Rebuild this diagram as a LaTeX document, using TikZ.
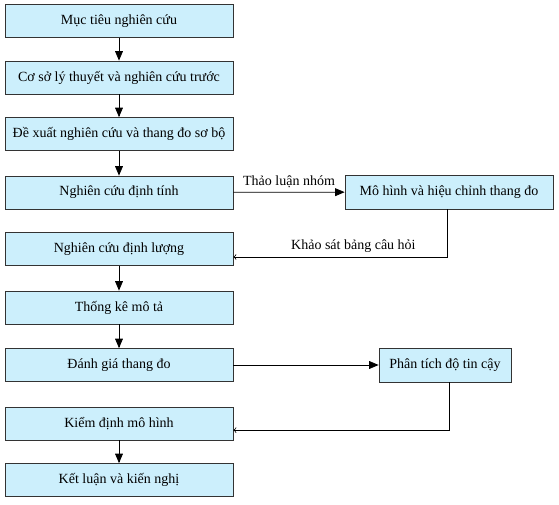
\documentclass[tikz,border=0pt]{standalone}
\usepackage{fontspec}
\setmainfont{Liberation Serif}
\usetikzlibrary{arrows}

\tikzset{
  buoc/.style={draw=black!80, fill=cyan!20, line width=0.6pt, inner sep=0pt,
    minimum width=171pt, minimum height=24.75pt, font=\fontsize{10.5}{12}\selectfont},
  phu/.style={buoc, minimum width=156pt, minimum height=25.5pt},
  muiten/.style={-triangle 45, line width=0.6pt},
  muivao/.style={-to, line width=0.6pt}
}

\begin{document}
\begin{tikzpicture}[x=0.75pt,y=-0.75pt]
\useasboundingbox (0,0) rectangle (559,505);
\node [buoc] (muctieu) at (119,21) {Mục tiêu nghiên cứu};
\node [buoc] (coso) at (119,77.5) {Cơ sở lý thuyết và nghiên cứu trước};
\node [buoc] (dexuat) at (119,134) {Đề xuất nghiên cứu và thang đo sơ bộ};
\node [buoc] (dinhtinh) at (119,192.5) {Nghiên cứu định tính};
\node [buoc] (dinhluong) at (119,249) {Nghiên cứu định lượng};
\node [buoc] (thongke) at (119,307.5) {Thống kê mô tả};
\node [buoc] (danhgia) at (119,365) {Đánh giá thang đo};
\node [buoc] (kiemdinh) at (119,423.5) {Kiểm định mô hình};
\node [buoc] (ketluan) at (119,480) {Kết luận và kiến nghị};
\node [phu] (mohinh) at (449,192) {Mô hình và hiệu chỉnh thang đo};
\node [phu, minimum width=99pt] (phantich) at (445,365) {Phân tích độ tin cậy};
\draw [muiten] (muctieu) -- (coso);
\draw [muiten] (coso) -- (dexuat);
\draw [muiten] (dexuat) -- (dinhtinh);
\draw [muiten] (dinhluong) -- (thongke);
\draw [muiten] (thongke) -- (danhgia);
\draw [muiten] (kiemdinh) -- (ketluan);
\draw [muiten] (dinhtinh) -- node [above, font=\fontsize{10.5}{12}\selectfont] {Thảo luận nhóm} (mohinh);
\draw [muiten] (danhgia) -- (phantich);
\draw [muivao] ([xshift=-1]mohinh.south) |- node [pos=0.72, above, font=\fontsize{10.5}{12}\selectfont] {Khảo sát bảng câu hỏi} ([yshift=-6]dinhluong.east);
\draw [muivao] ([xshift=3]phantich.south) |- ([yshift=-5]kiemdinh.east);
\end{tikzpicture}
\end{document}
